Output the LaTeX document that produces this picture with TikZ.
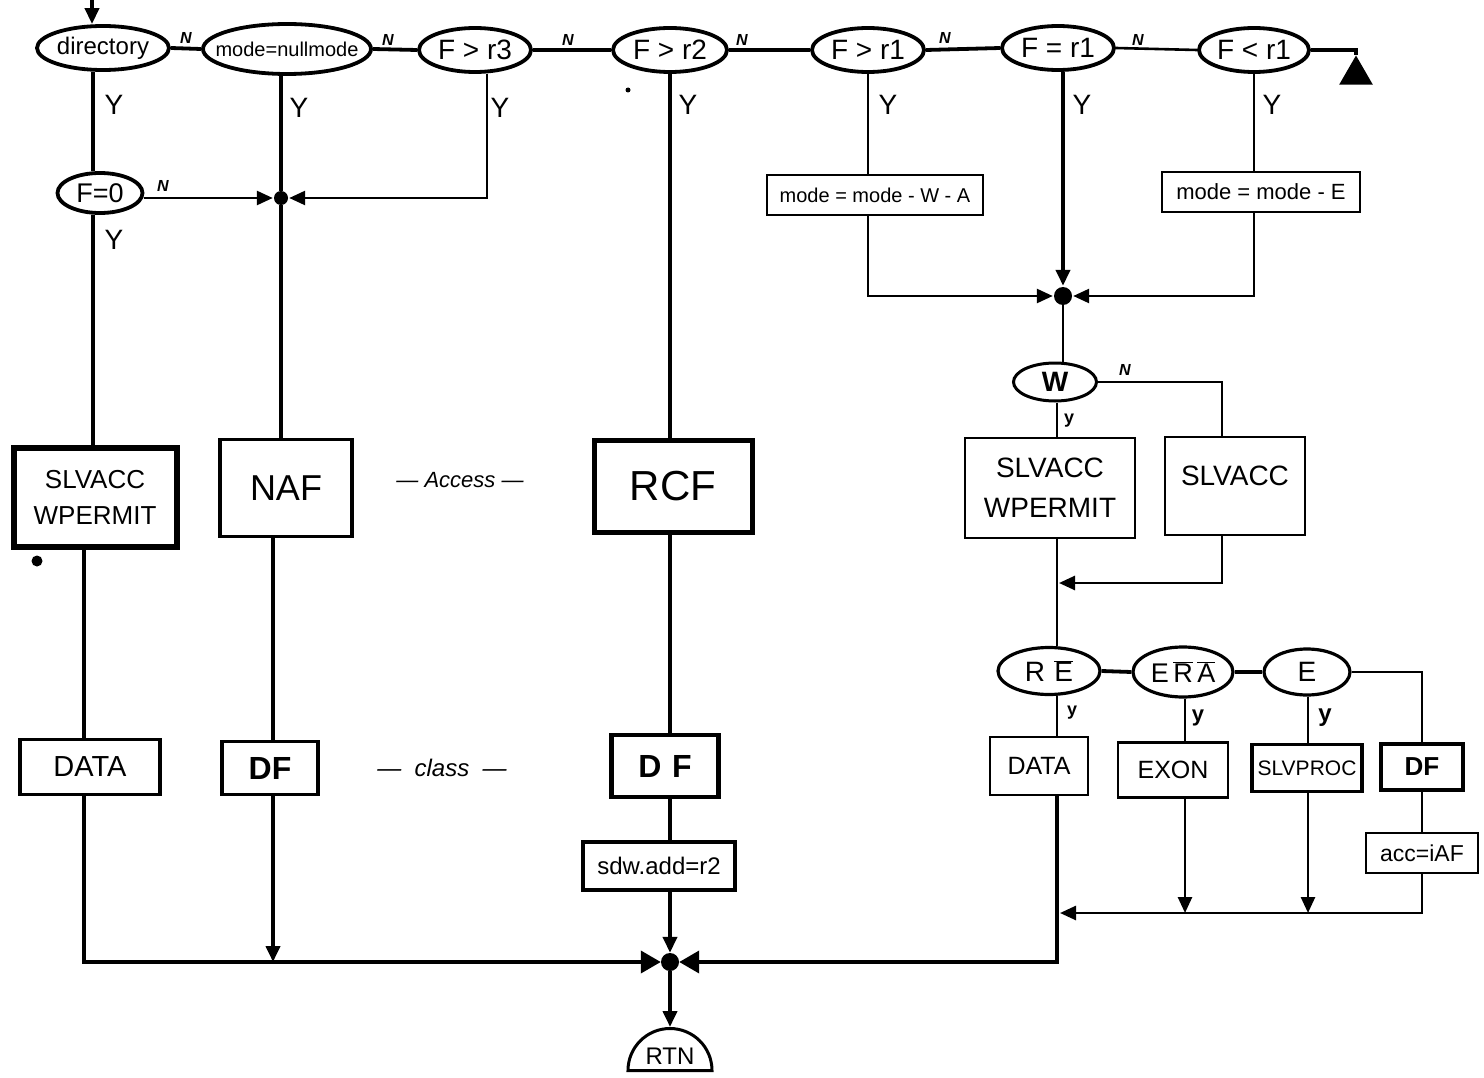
\documentclass[tikz,border=0pt]{standalone}
\usepackage{fontspec}
\setmainfont{Liberation Sans}
\usetikzlibrary{shapes.geometric,arrows.meta}
\newcommand{\fs}[1]{\fontsize{#1}{#1}\selectfont}
\newcommand{\ovl}[1]{$\overline{\mbox{#1}}$}
\begin{document}
\begin{tikzpicture}[x=1pt,y=-1pt,
  ln/.style={line width=3.8pt},
  lnt/.style={line width=2.6pt},
  arr/.style={-{Triangle[length=16pt,width=14pt]}},
  dec/.style={ellipse,draw,line width=3.8pt,inner sep=0pt},
  box/.style={rectangle,draw,line width=3.2pt,inner sep=0pt,align=center},
  ylab/.style={font=\fs{28}},
  nlab/.style={font=\fs{16}\bfseries\itshape},
  hub/.style={circle,fill,inner sep=0pt,minimum size=16pt}]
\fill[white] (0,0) rectangle (1484,1078);
\useasboundingbox (0,0) rectangle (1484,1078);

% column coordinates
\coordinate (xA) at (93,0);
\coordinate (xA2) at (84,0);
\coordinate (xB) at (281,0);
\coordinate (xB2) at (273,0);
\coordinate (xC) at (487,0);
\coordinate (xD) at (670,0);
\coordinate (xE) at (868,0);
\coordinate (xF) at (1063,0);
\coordinate (xG) at (1254,0);
\coordinate (xH) at (1057,0);
\coordinate (xI) at (1222,0);
\coordinate (xK) at (1185,0);
\coordinate (xL) at (1308,0);
\coordinate (start) at (92,0);

% top row decisions
\node[dec,minimum width=132pt,minimum height=44pt,inner xsep=-10pt,font=\fs{24}] (dir) at (103,48) {directory};
\node[dec,minimum width=168pt,minimum height=50pt,inner xsep=-13pt,font=\fs{20}] (mode) at (287,49) {mode=nullmode};
\node[dec,minimum width=112pt,minimum height=44pt,font=\fs{28}] (fr3) at (475,50) {F > r3};
\node[dec,minimum width=114pt,minimum height=44pt,font=\fs{28}] (fr2) at (670,50) {F > r2};
\node[dec,minimum width=112pt,minimum height=44pt,font=\fs{28}] (fr1) at (868,50) {F > r1};
\node[dec,minimum width=112pt,minimum height=44pt,font=\fs{28}] (feq) at (1058,48) {F = r1};
\node[dec,minimum width=110pt,minimum height=44pt,font=\fs{28}] (flt) at (1254,50) {F < r1};
\node[regular polygon,regular polygon sides=3,fill,draw,line width=1.5pt,minimum size=36pt,inner sep=0pt] (tri) at (1356,75) {};

\draw[ln,arr] (start) -- (dir.north -| start);
\draw[ln] (dir.east) -- (mode.west);
\draw[ln] (mode.east) -- (fr3.west);
\draw[ln] (fr3.east) -- (fr2.west);
\draw[ln] (fr2.east) -- (fr1.west);
\draw[ln] (fr1.east) -- (feq.west);
\draw[lnt] (feq.east) -- (flt.west);
\draw[ln] (flt.east) -| (tri.north);

\node[nlab] (n1) at (186,38) {N};
\node[nlab] (n2) at (388,40) {N};
\node[nlab] (n3) at (568,40) {N};
\node[nlab] (n4) at (742,40) {N};
\node[nlab] (n5) at (945,38) {N};
\node[nlab] (n6) at (1138,40) {N};

% left column
\node[dec,minimum width=85pt,minimum height=40pt,font=\fs{27}] (F0) at (100,193) {F=0};
\node[box,line width=6pt,minimum width=163pt,minimum height=99pt,font=\fs{26}] (S1) at (95,497) {SLVACC\\[10pt]WPERMIT};
\node[box,minimum width=140pt,minimum height=55pt,font=\fs{29}] (D1) at (90,767) {DATA};
\fill (37,561) circle (5.5);
\fill (628,90) circle (2.5);

\draw[ln] (dir.south -| xA) -- (F0.north -| xA);
\draw[ln] (F0.south -| xA) -- (S1.north -| xA);
\draw[ln] (S1.south -| xA2) -- (D1.north -| xA2);
\node[ylab] (y1) at (114,105) {Y};
\node[ylab] (y2) at (114,240) {Y};
\node[nlab] (n7) at (163,186) {N};

% mode column
\node[hub,minimum size=14pt] (dot1) at (281,198) {};
\node[box,minimum width=132pt,minimum height=97pt,font=\fs{36}] (NAF) at (286,488) {NAF};
\node[box,minimum width=96pt,minimum height=53pt,font=\fs{32}\bfseries] (DF1) at (270,768) {DF};
\draw[ln] (mode.south -| xB) -- (dot1) -- (NAF.north -| xB);
\draw[lnt,arr,shorten >=1pt] (F0.east |- dot1) -- (dot1.west);
\draw[lnt,arr,shorten >=1pt] (fr3.south -| xC) |- (dot1.east);
\draw[ln] (NAF.south -| xB2) -- (DF1.north -| xB2);
\node[ylab] (y3) at (299,108) {Y};
\node[ylab] (y4) at (500,108) {Y};
\node[font=\fs{22}\itshape] (acc) at (460,480) {--- Access ---};
\node[font=\fs{24}\itshape] (cls) at (442,768) {---\ \ class\ \ ---};

% RCF column
\node[box,line width=5pt,minimum width=158pt,minimum height=92pt,font=\fs{42}] (RCF) at (673,486) {RCF};
\node[box,line width=4.5pt,minimum width=107pt,minimum height=62pt,font=\fs{32}\bfseries] (DFc) at (665,766) {D\,\,F};
\node[box,minimum width=152pt,minimum height=48pt,font=\fs{24}] (sdw) at (659,866) {sdw.add=r2};
\node[hub,minimum size=18pt] (hub) at (670,962) {};
\node[semicircle,draw,line width=3pt,minimum width=84pt,inner sep=3pt,font=\fs{24},anchor=chord center] (RTN) at (670,1072) {RTN};
\draw[ln] (fr2.south) -- (RCF.north -| xD);
\draw[ln] (RCF.south -| xD) -- (DFc.north -| xD);
\draw[ln] (DFc.south -| xD) -- (sdw.north -| xD);
\draw[ln,arr] (sdw.south -| xD) -- (hub.north);
\draw[ln,arr] (hub.south) -- (RTN.apex);
\node[ylab] (y5) at (688,105) {Y};

% bottom left joins
\draw[ln,-{Triangle[length=20pt,width=22pt]}] (D1.south -| xA2) |- (hub.west);
\draw[ln,arr] (DF1.south -| xB2) -- (xB2 |- hub);

% right part
\node[box,lnt,minimum width=216pt,minimum height=40pt,font=\fs{20}] (WA) at (875,195) {mode = mode - W - A};
\node[box,lnt,minimum width=198pt,minimum height=40pt,font=\fs{22}] (WE) at (1261,192) {mode = mode - E};
\node[hub,minimum size=18pt] (dot2) at (1063,296) {};
\draw[lnt] (fr1.south) -- (WA.north -| xE);
\draw[lnt,arr,shorten >=1pt] (WA.south -| xE) |- (dot2.west);
\draw[ln,arr,shorten >=1pt] (feq.south -| xF) -- (dot2.north);
\draw[lnt] (flt.south) -- (WE.north -| xG);
\draw[lnt,arr,shorten >=1pt] (WE.south -| xG) |- (dot2.east);
\node[ylab] (y6) at (888,105) {Y};
\node[ylab] (y7) at (1082,105) {Y};
\node[ylab] (y8) at (1272,105) {Y};

\node[dec,line width=3pt,minimum width=83pt,minimum height=38pt,font=\fs{28}\bfseries] (W) at (1055,382) {W};
\node[box,lnt,minimum width=170pt,minimum height=100pt,font=\fs{28}] (S2) at (1050,488) {SLVACC\\[12pt]WPERMIT};
\node[box,lnt,minimum width=140pt,minimum height=98pt,font=\fs{28}] (S3) at (1235,486) {\raisebox{20pt}{SLVACC}};
\coordinate (m1) at (1059,583);
\draw[lnt] (dot2) -- (W.north -| dot2);
\draw[lnt] (W.south -| xH) -- (S2.north -| xH);
\draw[lnt] (W.east) -| (xI |- S3.north);
\draw[lnt,arr] (xI |- S3.south) |- (m1);
\node[nlab] (n8) at (1125,370) {N};
\node[font=\fs{18}\bfseries] (y9) at (1069,421) {y};

\node[dec,line width=3.2pt,minimum width=102pt,minimum height=47pt,font=\fs{28}] (RE) at (1049,671) {R\,\,\ovl{E}};
\node[dec,line width=3.2pt,minimum width=100pt,minimum height=50pt,font=\fs{27}] (ERA) at (1183,672) {E\,\ovl{R}\,\ovl{A}};
\node[dec,line width=3.2pt,minimum width=86pt,minimum height=46pt,font=\fs{28}] (E) at (1307,672) {E};
\draw[lnt] (S2.south -| xH) -- (RE.north -| xH);
\draw[ln] (RE.east) -- (ERA.west);
\draw[ln] (ERA.east) -- (E.west);

\node[box,lnt,minimum width=98pt,minimum height=58pt,font=\fs{25}] (D2) at (1039,766) {DATA};
\node[box,lnt,minimum width=110pt,minimum height=55pt,font=\fs{25}] (EX) at (1173,770) {EXON};
\node[box,minimum width=110pt,minimum height=47pt,font=\fs{21}] (SP) at (1307,768) {SLVPROC};
\node[box,minimum width=82pt,minimum height=46pt,font=\fs{26}\bfseries] (DF2) at (1422,767) {DF};
\node[box,lnt,minimum width=112pt,minimum height=40pt,font=\fs{23}] (ACC) at (1422,853) {acc=iAF};
\draw[lnt] (E.east) -| (DF2.north);
\draw[lnt] (RE.south -| xH) -- (D2.north -| xH);
\draw[lnt] (ERA.south -| xK) -- (EX.north -| xK);
\draw[lnt] (E.south -| xL) -- (SP.north -| xL);
\draw[lnt] (DF2.south) -- (ACC.north);
\node[font=\fs{18}\bfseries] (y10) at (1072,713) {y};
\node[font=\fs{22}\bfseries] (y11) at (1198,718) {y};
\node[font=\fs{24}\bfseries] (y12) at (1325,718) {y};

\coordinate (m2) at (1060,913);
\draw[lnt,arr] (EX.south -| xK) -- (xK |- m2);
\draw[lnt,arr] (SP.south -| xL) -- (xL |- m2);
\draw[lnt,arr] (ACC.south) |- (m2);
\draw[ln,-{Triangle[length=20pt,width=22pt]}] (D2.south -| xH) |- (hub.east);
\end{tikzpicture}
\end{document}
